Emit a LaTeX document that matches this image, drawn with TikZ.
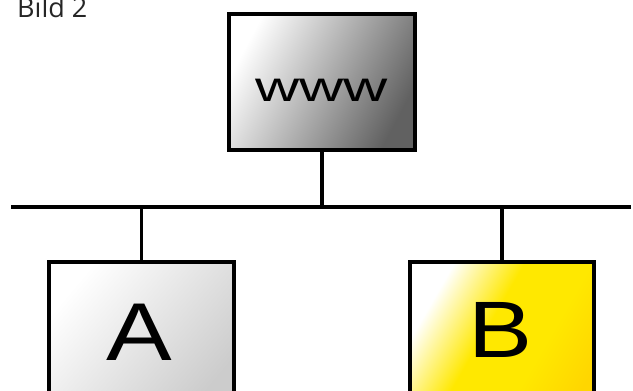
\documentclass[tikz,border=0pt]{standalone}
\usepackage{fontspec}
\setmainfont{Liberation Sans}
\newfontfamily\titlefont{Open Sans}
\definecolor{ybright}{RGB}{255,232,0}
\definecolor{ygold}{RGB}{255,214,0}
\pgfdeclarehorizontalshading{yboxshade}{100bp}{color(0bp)=(white); color(27bp)=(white); color(45bp)=(ybright); color(62bp)=(ybright); color(78bp)=(ygold); color(100bp)=(ygold)}
\begin{document}
\begin{tikzpicture}[x=1pt,y=1pt,
  netbox/.style={draw=black,line width=3.5pt,inner sep=0pt,anchor=north west},
  wire/.style={line width=3.5pt,line cap=butt}]
\useasboundingbox (0,0) rectangle (633,-391);
\clip (0,0) rectangle (633,-391);
% title
\node[anchor=base west,inner sep=0pt,font=\titlefont\fontsize{27}{27}\selectfont,text=black!85] (title) at (17,-17) {Bild 2};
% boxes
\node[netbox,minimum width=186pt,minimum height=136pt,top color=white,bottom color=black!62,shading angle=62] (www) at (227,-12) {};
\node at (www.center) [yshift=-9pt] (wwwlabel) {\scalebox{1.33}[0.92]{\fontsize{46}{46}\selectfont www}};
\node[netbox,minimum width=185pt,minimum height=150pt,top color=white,bottom color=black!20,shading angle=50] (a) at (47,-260) {};
\node[netbox,minimum width=184pt,minimum height=150pt,shading=yboxshade,shading angle=-30] (b) at (408,-260) {};
\node at (139.5,-332) (alabel) {\scalebox{1.2}[1]{\fontsize{82}{82}\selectfont A}};
\node at (501,-330) (blabel) {\scalebox{1.2}[1]{\fontsize{80}{80}\selectfont B}};
% bus
\coordinate (busl) at (11,-207);
\coordinate (busr) at (631,-207);
\coordinate (jw) at (www.south |- busl);
\coordinate (ja) at (a.north |- busl);
\coordinate (jb) at (b.north |- busl);
\draw[wire] (busl) -- (busr);
\draw[wire] (www.south) -- (jw);
\draw[wire] (ja) -- (a.north);
\draw[wire] (jb) -- (b.north);
\end{tikzpicture}
\end{document}
